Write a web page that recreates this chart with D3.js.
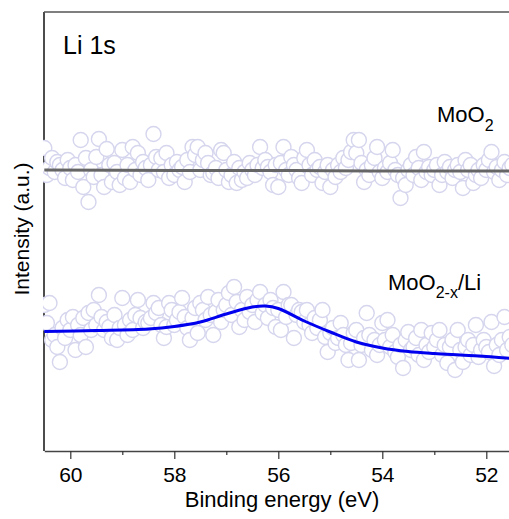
<!DOCTYPE html>
<html>
<head>
<meta charset="utf-8">
<script src="https://cdn.jsdelivr.net/npm/d3@7"></script>
<style>
  body { margin: 0; background: #fff; }
  text { font-family: "Liberation Sans", Arial, sans-serif; fill: #000; }
</style>
</head>
<body>
<svg></svg>
<script>
// Li 1s spectra, energy grid of the scan
const eStart = 60.5;
const eStep = 0.05;

// raw counts, MoO2 (upper) and MoO2-x/Li (lower)
const moo2Counts = [
  303,276,283,293,279,289,286,281,273,291, 283,271,286,279,311,264,293,249,281,274,
  294,312,276,264,302,286,269,288,279,266, 301,273,286,269,304,281,298,276,289,283,
  271,286,317,294,281,293,279,298,273,286, 276,289,281,284,269,291,279,304,296,304,
  281,291,298,288,276,278,283,273,301,298, 281,269,276,289,268,283,271,279,273,288,
  281,276,286,304,283,291,284,279,266,286, 264,288,304,281,276,294,286,281,273,268,
  293,301,286,276,291,281,284,268,279,286, 264,281,274,286,279,293,283,291,299,311,
  298,311,288,269,281,276,286,293,304,279, 273,283,279,288,301,281,276,253,273,266,
  281,286,276,294,283,271,299,279,284,276, 281,286,266,276,289,279,284,273,281,286,
  279,263,291,281,286,268,276,281,273,286, 281,291,299,279,284,271,281,289,276,283,286
];
const liCounts = [
  146,128,148,111,116,104, 89,123,113,131, 121,134,101,126,116,133,104,138,121,141,
  126,156,134,121,129,124,113,136,111,123, 153,126,116,131,121,136,151,133,123,129,
  128,133,148,138,143,126,113,124,148,141, 126,131,139,153,134,123,111,133,143,118,
  148,141,131,154,136,116,139,151,129,141, 146,158,136,164,149,124,141,131,154,139,
  146,129,151,159,138,146,133,151,143,124, 141,121,159,134,146,146,113,136,141,139,
  129,141,126,118,133,123,131,141,114, 99, 118,123,108,113,128,116,106, 91,108,118,
  121, 91,106,113,138,116,101,111, 96,106, 128,111,131,104,116, 99, 94,106, 83,111,
  119,101,104,113, 96,121, 91,106, 99,118, 104,111,121, 96,106, 88,104,111, 81,121,
  101, 89,104,111, 96,106,126, 94,101,111, 104, 99,129, 85,106, 96,111,134,101,114,106
];

// fitted envelopes
const moo2FitE = [60.5, 58, 56, 54, 52, 51.5];
const moo2FitI = [281, 280.5, 280.5, 280, 280, 280];
const liFitE = [60.5, 59.5, 58.5, 58, 57.5, 57, 56.5, 56.25, 56, 55.5, 55, 54.5, 54, 53.5, 53, 52.5, 52, 51.5];
const liFitI = [119.5, 120.5, 122, 124.5, 129, 137, 144, 145, 142.5, 130, 119, 109, 103, 99.5, 97.5, 96, 94.5, 92.5];

const majorTicks = [60, 58, 56, 54, 52];
const minorTicks = [59, 57, 55, 53];

const w = 509;
const h = 519;
const padLeft = 44, padTop = 12, axisY = 451;

const svg = d3.select("svg").attr("width", w).attr("height", h);

const x = d3.scaleLinear().domain([60.5, 51.5]).range([44.3, 512.3]);
const y = d3.scaleLinear().domain([0, 439]).range([axisY, padTop]);

// frame: left, top, bottom
svg.append("line").attr("x1", padLeft).attr("x2", padLeft).attr("y1", padTop).attr("y2", axisY)
  .attr("stroke", "#111").attr("stroke-width", 1.5);
svg.append("line").attr("x1", padLeft).attr("x2", 512).attr("y1", padTop).attr("y2", padTop)
  .attr("stroke", "#555").attr("stroke-width", 1.5);

const xAxis = d3.axisBottom(x).tickValues(majorTicks).tickSize(8).tickSizeOuter(0)
  .tickPadding(8).tickFormat(d3.format("d"));
const gx = svg.append("g").attr("transform", "translate(0," + axisY + ")").call(xAxis);
gx.select(".domain").attr("stroke", "#444").attr("stroke-width", 1.5);
gx.selectAll(".tick line").attr("stroke", "#333").attr("stroke-width", 1.2);
gx.selectAll(".tick text").style("font-size", "21px").attr("fill", "#000")
  .style("font-family", "Liberation Sans, Arial, sans-serif");

const gm = svg.append("g").attr("transform", "translate(0," + axisY + ")")
  .call(d3.axisBottom(x).tickValues(minorTicks).tickSize(4).tickSizeOuter(0).tickFormat(""));
gm.select(".domain").remove();
gm.selectAll(".tick line").attr("stroke", "#333").attr("stroke-width", 1.2);

// clip for the data
svg.append("clipPath").attr("id", "plot")
  .append("rect").attr("x", 43).attr("y", padTop).attr("width", 470).attr("height", axisY - padTop);
const plot = svg.append("g").attr("clip-path", "url(#plot)");

const energy = (i) => eStart - eStep * i;

[moo2Counts, liCounts].forEach((series) => {
  plot.append("g").selectAll("circle")
    .data(series)
    .enter()
    .append("circle")
    .attr("cx", (d, i) => x(energy(i)))
    .attr("cy", (d) => y(d))
    .attr("r", 7.5)
    .attr("fill", "#fff")
    .attr("stroke", "#d5d5ee")
    .attr("stroke-width", 1.4);
});

const line = d3.line().x((d) => x(d[0])).y((d) => y(d[1])).curve(d3.curveCatmullRom.alpha(0.5));

plot.append("path")
  .attr("d", line(moo2FitE.map((e, i) => [e, moo2FitI[i]])))
  .attr("fill", "none").attr("stroke", "#666").attr("stroke-width", 3);
plot.append("path")
  .attr("d", line(liFitE.map((e, i) => [e, liFitI[i]])))
  .attr("fill", "none").attr("stroke", "#0000ee").attr("stroke-width", 3);

// labels
svg.append("text").attr("x", 63).attr("y", 54).style("font-size", "25px").text("Li 1s");

const t1 = svg.append("text").attr("x", 437).attr("y", 122).style("font-size", "22px");
t1.append("tspan").text("MoO");
t1.append("tspan").attr("dy", 9).style("font-size", "16px").text("2");

const t2 = svg.append("text").attr("x", 388).attr("y", 290).style("font-size", "22px");
t2.append("tspan").text("MoO");
t2.append("tspan").attr("dy", 8).style("font-size", "16px").text("2-x");
t2.append("tspan").attr("dy", -8).text("/Li");

svg.append("text").attr("x", 282).attr("y", 507).attr("text-anchor", "middle")
  .style("font-size", "22px").text("Binding energy (eV)");

svg.append("text").attr("transform", "translate(29,229) rotate(-90)")
  .attr("text-anchor", "middle").style("font-size", "21px").text("Intensity (a.u.)");
</script>
</body>
</html>
